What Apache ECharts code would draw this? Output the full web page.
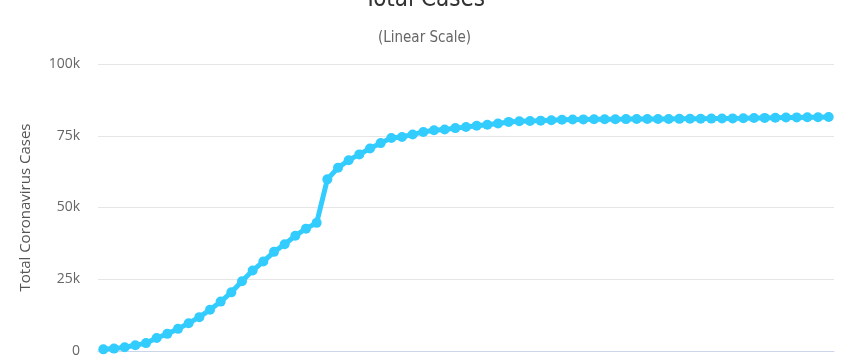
<!DOCTYPE html>
<html>
<head>
<meta charset="utf-8">
<script src="https://cdn.jsdelivr.net/npm/echarts@6/dist/echarts.min.js"></script>
<style>
html,body{margin:0;padding:0;background:#fff;}
#chart{width:849px;height:363px;}
</style>
</head>
<body>
<div id="chart"></div>
<script>
var categories = ["Jan 22","Jan 23","Jan 24","Jan 25","Jan 26","Jan 27","Jan 28","Jan 29","Jan 30","Jan 31",
"Feb 01","Feb 02","Feb 03","Feb 04","Feb 05","Feb 06","Feb 07","Feb 08","Feb 09","Feb 10","Feb 11","Feb 12","Feb 13","Feb 14","Feb 15","Feb 16","Feb 17","Feb 18","Feb 19","Feb 20","Feb 21","Feb 22","Feb 23","Feb 24","Feb 25","Feb 26","Feb 27","Feb 28","Feb 29",
"Mar 01","Mar 02","Mar 03","Mar 04","Mar 05","Mar 06","Mar 07","Mar 08","Mar 09","Mar 10","Mar 11","Mar 12","Mar 13","Mar 14","Mar 15","Mar 16","Mar 17","Mar 18","Mar 19","Mar 20","Mar 21","Mar 22","Mar 23","Mar 24","Mar 25","Mar 26","Mar 27","Mar 28","Mar 29","Mar 30"];
var totalCases = [571,830,1287,1975,2744,4515,5974,7711,9692,11791,
14380,17205,20438,24324,28018,31161,34546,37198,40171,42638,44653,59804,63851,66492,68500,70548,72436,74185,74576,75465,76288,76936,77150,77658,78064,78497,78824,79251,79824,
80026,80151,80270,80409,80552,80651,80695,80735,80754,80778,80793,80813,80824,80844,80860,80881,80894,80928,80967,81008,81054,81093,81171,81218,81285,81340,81394,81439,81470,81518];
var yTicks = {min:0, max:100000, interval:25000};

var chart = echarts.init(document.getElementById('chart'));
chart.setOption({
  animation:false,
  title:{
    text:'Total Cases',
    subtext:'(Linear Scale)',
    left:'center',
    top:-17,
    itemGap:19,
    textStyle:{fontFamily:"'Liberation Sans Narrow','DejaVu Sans Condensed','Open Sans',sans-serif",fontSize:24,fontWeight:'normal',color:'#333'},
    subtextStyle:{fontFamily:"'Liberation Sans Narrow','DejaVu Sans Condensed','Open Sans',sans-serif",fontSize:15,color:'#666'}
  },
  grid:{left:98,right:15,top:64,bottom:12,containLabel:false},
  xAxis:{
    type:'category',
    data:categories,
    boundaryGap:true,
    axisLine:{lineStyle:{color:'#ccd6eb',width:1}},
    axisTick:{show:false},
    axisLabel:{show:false}
  },
  yAxis:{
    type:'value',
    min:yTicks.min,max:yTicks.max,interval:yTicks.interval,
    name:'Total Coronavirus Cases',
    nameLocation:'middle',
    nameGap:65,
    nameTextStyle:{fontFamily:"'Open Sans',sans-serif",fontSize:15,color:'#555'},
    axisLine:{show:false},
    axisTick:{show:false},
    splitLine:{lineStyle:{color:'#e6e6e6',width:1}},
    axisLabel:{
      margin:18,
      fontFamily:"'Open Sans',sans-serif",fontSize:14,color:'#666',
      formatter:function(v){return v===0?'0':(v/1000)+'k';}
    }
  },
  series:[{
    type:'line',
    data:totalCases,
    symbol:'circle',
    symbolSize:10,
    showAllSymbol:true,
    lineStyle:{color:'#33ccff',width:5},
    itemStyle:{color:'#33ccff'}
  }]
});
</script>
</body>
</html>
